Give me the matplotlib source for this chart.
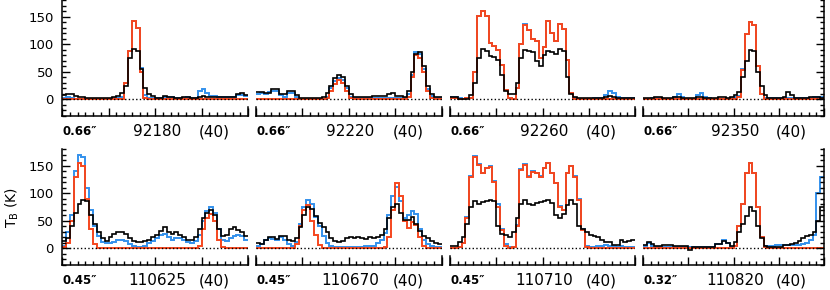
import numpy as np
import matplotlib.pyplot as plt
from matplotlib.ticker import MultipleLocator

# panel labels: beam size, line frequency (MHz), window width
beams = ['0.66″', '0.66″', '0.66″', '0.66″', '0.45″', '0.45″', '0.45″', '0.32″']
freqs = ['92180', '92220', '92260', '92350', '110625', '110670', '110710', '110820']
widths = ['(40)'] * 8

# brightness temperature per channel (K), 48 channels per panel
black = [
    [8, 10, 9, 6, 5, 4, 3, 3, 2, 2, 3, 2, 3, 5, 7, 12, 25, 75, 91, 88, 55, 20, 10, 7,
     3, 3, 6, 5, 4, 3, 3, 4, 5, 3, 3, 5, 7, 5, 4, 4, 4, 4, 4, 4, 5, 10, 12, 8],
    [13, 13, 12, 12, 18, 18, 10, 10, 15, 15, 8, 3, 2, 2, 2, 2, 2, 5, 12, 25, 38, 45, 40, 25,
     10, 5, 5, 5, 5, 5, 6, 6, 6, 6, 10, 11, 6, 6, 4, 15, 50, 82, 85, 60, 25, 10, 5, 4],
    [4, 4, 1, 1, 1, 8, 30, 75, 92, 88, 78, 77, 72, 45, 15, 10, 10, 30, 75, 90, 88, 85, 70, 60,
     80, 88, 85, 82, 92, 88, 40, 10, 5, 3, 3, 3, 3, 2, 2, 3, 5, 6, 4, 2, 2, 2, 2, 2],
    [3, 3, 3, 4, 5, 3, 2, 2, 5, 5, 3, 2, 2, 3, 5, 5, 3, 3, 3, 3, 4, 4, 3, 4,
     8, 14, 40, 70, 90, 88, 50, 25, 8, 3, 3, 3, 3, 5, 14, 8, 3, 3, 3, 3, 4, 5, 5, 3],
    [14, 18, 40, 65, 80, 88, 85, 60, 45, 30, 18, 14, 20, 26, 30, 30, 26, 18, 14, 12, 12, 13, 16, 20,
     25, 32, 38, 30, 26, 30, 25, 20, 16, 16, 20, 35, 55, 65, 70, 60, 35, 22, 25, 35, 38, 34, 30, 22],
    [10, 8, 15, 20, 20, 17, 22, 22, 16, 14, 18, 38, 60, 75, 72, 58, 46, 38, 30, 18, 14, 12, 13, 18,
     20, 18, 20, 18, 17, 20, 18, 20, 24, 36, 55, 75, 80, 65, 52, 52, 57, 45, 32, 22, 18, 14, 10, 8],
    [4, 5, 12, 20, 45, 75, 86, 80, 84, 86, 88, 85, 40, 27, 25, 21, 30, 55, 80, 87, 80, 78, 82, 84,
     86, 87, 82, 60, 55, 62, 78, 88, 80, 40, 35, 30, 25, 22, 20, 15, 12, 12, 7, 6, 15, 12, 14, 15],
    [6, 12, 8, 4, 4, 6, 6, 6, 4, 4, 4, 5, -2, 3, 3, 3, 3, 3, 3, 8, 8, 14, 10, 4,
     12, 30, 45, 58, 75, 68, 40, 18, 5, 3, 3, 3, 3, 6, 6, 8, 10, 14, 18, 22, 25, 30, 50, 75],
]
blue = [
    [3, 4, 2, 1, 1, 1, 1, 0, 0, 1, 1, 1, 1, 2, 3, 5, 30, 88, 142, 130, 57, 8, 3, 3,
     3, 2, 5, 5, 5, 3, 3, 3, 5, 3, 3, 15, 19, 12, 6, 6, 5, 4, 4, 4, 4, 8, 8, 6],
    [10, 12, 10, 14, 15, 15, 8, 5, 12, 12, 5, 1, 0, 0, 0, 0, 0, 1, 5, 20, 33, 38, 35, 20,
     5, 2, 2, 2, 2, 2, 2, 3, 3, 3, 3, 3, 3, 3, 3, 10, 45, 86, 82, 55, 18, 6, 3, 3],
    [5, 5, 2, 1, 2, 3, 50, 151, 160, 151, 102, 96, 90, 63, 17, 3, 1, 20, 100, 136, 125, 110, 105, 75,
     95, 142, 120, 105, 136, 128, 72, 12, 2, 1, 1, 1, 1, 2, 2, 3, 8, 15, 12, 5, 2, 2, 2, 2],
    [1, 1, 2, 2, 2, 1, 1, 1, 5, 9, 4, 1, 1, 1, 8, 12, 5, 2, 1, 1, 1, 1, 1, 2,
     5, 7, 55, 118, 141, 135, 60, 10, 2, 2, 2, 2, 2, 2, 3, 3, 2, 2, 2, 2, 3, 4, 4, 4],
    [5, 30, 60, 140, 169, 165, 110, 70, 40, 22, 12, 10, 10, 12, 15, 16, 14, 8, 4, 3, 3, 5, 10, 13,
     18, 24, 27, 20, 16, 18, 18, 15, 12, 10, 14, 25, 50, 68, 75, 65, 35, 16, 14, 18, 22, 24, 22, 15],
    [5, 8, 15, 18, 17, 15, 20, 16, 8, 5, 12, 45, 75, 87, 80, 57, 40, 22, 10, 5, 2, 2, 2, 2,
     2, 2, 3, 3, 4, 5, 5, 10, 15, 28, 60, 95, 112, 85, 55, 60, 68, 62, 35, 15, 8, 4, 2, 2],
    [0, 1, 2, 10, 57, 132, 167, 152, 137, 146, 149, 122, 80, 36, 8, 2, 3, 42, 143, 152, 131, 140, 137, 132,
     146, 155, 137, 119, 76, 70, 137, 150, 131, 89, 36, 5, 2, 3, 4, 5, 6, 5, 4, 3, 4, 2, 2, 2],
    [5, 10, 4, 2, 2, 2, 2, 2, 3, 3, 2, 2, 2, 2, 2, 2, 2, 3, 3, 8, 8, 16, 10, 2,
     5, 40, 80, 136, 154, 136, 75, 20, 4, 4, 5, 6, 7, 6, 6, 6, 6, 6, 8, 10, 15, 25, 100, 130],
]
red = [
    [0, 0, 0, 0, 0, 0, 0, 0, 0, 0, 0, 0, 0, 0, 0, 0, 30, 88, 142, 130, 50, 3, 0, 0,
     0, 0, 0, 0, 0, 0, 0, 0, 0, 0, 0, 0, 0, 0, 0, 0, 0, 0, 0, 0, 0, 0, 0, 0],
    [0, 0, 0, 0, 0, 0, 0, 0, 0, 0, 0, 0, 0, 0, 0, 0, 0, 0, 3, 15, 28, 35, 30, 15,
     2, 0, 0, 0, 0, 0, 0, 0, 0, 0, 0, 0, 0, 0, 0, 5, 40, 80, 75, 50, 15, 3, 0, 0],
    [2, 2, 1, 1, 2, 3, 50, 151, 160, 151, 102, 96, 90, 63, 17, 2, 0, 20, 100, 135, 125, 110, 105, 75,
     95, 142, 120, 105, 136, 128, 72, 12, 1, 0, 0, 0, 0, 0, 0, 0, 0, 0, 0, 0, 0, 0, 0, 0],
    [0, 0, 0, 0, 0, 0, 0, 0, 0, 0, 0, 0, 0, 0, 0, 0, 0, 0, 0, 0, 0, 0, 0, 0,
     0, 5, 54, 118, 141, 135, 60, 10, 0, 0, 0, 0, 0, 0, 0, 0, 0, 0, 0, 0, 0, 0, 0, 0],
    [2, 10, 50, 130, 155, 150, 90, 35, 8, 1, 0, 0, 0, 0, 0, 0, 0, 0, 0, 0, 0, 0, 0, 0,
     0, 0, 0, 0, 0, 0, 0, 0, 0, 0, 0, 5, 35, 55, 62, 50, 15, 2, 0, 0, 0, 0, 0, 0],
    [0, 0, 0, 0, 0, 0, 0, 0, 0, 0, 8, 40, 70, 78, 50, 25, 6, 1, 0, 0, 0, 0, 0, 0,
     0, 0, 0, 0, 0, 0, 0, 0, 0, 2, 20, 70, 118, 95, 50, 37, 48, 42, 20, 4, 0, 0, 0, 0],
    [0, 0, 2, 10, 55, 130, 166, 151, 136, 145, 148, 120, 75, 33, 5, 0, 2, 40, 142, 151, 130, 139, 136, 130,
     145, 154, 136, 118, 75, 69, 136, 149, 130, 87, 33, 2, 0, 0, 0, 0, 0, 0, 0, 0, 0, 0, 0, 0],
    [0, 0, 0, 0, 0, 0, 0, 0, 0, 0, 0, 0, 0, 0, 0, 0, 0, 0, 0, 0, 0, 0, 0, 0,
     5, 40, 80, 136, 154, 136, 75, 20, 2, 0, 0, 0, 0, 0, 0, 0, 0, 0, 0, 0, 0, 0, 0, 0],
]

# channel edges: offset from line centre, 0.5 per channel
edges = np.linspace(-12, 12, 49)

# panel extents in pixels (figure is 830 x 290)
lefts = [62, 256, 450, 643]
rights = [248, 441.5, 635, 824]
bottoms = [1 - 116 / 290, 1 - 265 / 290]

plt.rcParams['font.family'] = 'DejaVu Sans'
fig = plt.figure(figsize=(8.3, 2.9), dpi=100)

for i in range(8):
    row, col = divmod(i, 4)
    ax = fig.add_axes([lefts[col] / 830, bottoms[row],
                       (rights[col] - lefts[col]) / 830, 116 / 290])
    ax.stairs(blue[i], edges, baseline=None, color='#3391ec', lw=1.4)
    ax.stairs(red[i], edges, baseline=None, color='#f5461e', lw=1.4)
    ax.stairs(black[i], edges, baseline=None, color='black', lw=1.2)
    ax.axhline(0, color='black', ls=':', lw=1, zorder=5)
    ax.set_xlim(-12, 12)
    ax.set_ylim(-30, 180)

    ax.spines['top'].set_visible(False)
    for s in ax.spines.values():
        s.set_linewidth(1.1)
    ax.xaxis.set_major_locator(MultipleLocator(6))
    ax.xaxis.set_minor_locator(MultipleLocator(1))
    ax.tick_params(axis='x', which='both', direction='in', top=False,
                   labelbottom=False, width=1)
    ax.tick_params(axis='x', which='major', length=6)
    ax.tick_params(axis='x', which='minor', length=3)

    ax.yaxis.set_major_locator(MultipleLocator(50))
    ax.yaxis.set_minor_locator(MultipleLocator(10))
    ax.set_yticks([0, 50, 100, 150])
    ax.tick_params(axis='y', which='both', direction='in', width=1,
                   labelsize=9.5, pad=6)
    ax.tick_params(axis='y', which='major', length=6)
    ax.tick_params(axis='y', which='minor', length=3)
    if col == 0:
        ax.tick_params(axis='y', which='both', left=True, right=False, labelleft=True)
        ax.spines['right'].set_bounds(-30, -13)
    elif col == 3:
        ax.tick_params(axis='y', which='both', left=False, right=True,
                       labelleft=False, labelright=False)
        ax.spines['left'].set_bounds(-30, -13)
    else:
        ax.tick_params(axis='y', which='both', left=False, right=False, labelleft=False)
        ax.spines['left'].set_bounds(-30, -13)
        ax.spines['right'].set_bounds(-30, -13)

    ax.text(0.0, -0.135, beams[i], transform=ax.transAxes, ha='left', va='center',
            fontsize=8.5, fontweight='bold')
    ax.text(0.51, -0.135, freqs[i], transform=ax.transAxes, ha='center', va='center',
            fontsize=11)
    ax.text(0.82, -0.135, widths[i], transform=ax.transAxes, ha='center', va='center',
            fontsize=11)

fig.text(12 / 830, 1 - 208 / 290, r'T$_\mathrm{B}$ (K)', rotation=90,
         ha='center', va='center', fontsize=10)

fig.savefig('out.png', dpi=100)
